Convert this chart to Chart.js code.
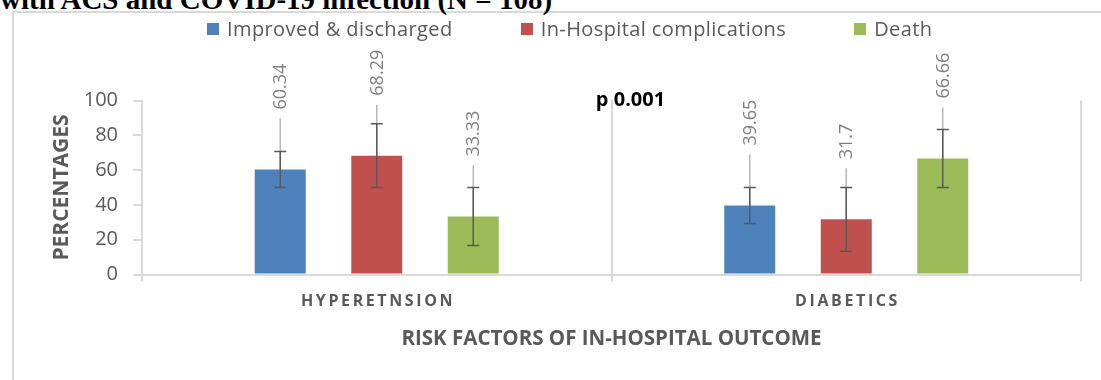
<!DOCTYPE html>
<html lang="en">
<head>
    <meta charset="UTF-8">
    <title>Risk factors of in-hospital outcome</title>
    <script src="https://cdn.jsdelivr.net/npm/chart.js"></script>
    <style>
        body {
            margin: 0;
            background: #ffffff;
            width: 1101px;
            height: 380px;
            overflow: hidden;
            position: relative;
            font-family: "Open Sans", sans-serif;
        }

        #frame {
            position: absolute;
            left: 12px;
            top: 11px;
            width: 1200px;
            height: 500px;
            border: 2px solid #d9d9d9;
        }

        #caption {
            position: absolute;
            left: 0;
            top: -15px;
            font: bold 29px/29px "Liberation Serif", "Times New Roman", serif;
            color: #000;
            white-space: nowrap;
        }

        #legend {
            position: absolute;
            left: 207px;
            top: 17px;
            display: flex;
            font-size: 20px;
            line-height: 24px;
            color: #595959;
            letter-spacing: 0.4px;
        }

        #legend .item {
            display: flex;
            align-items: center;
            margin-right: 68px;
        }

        #legend .box {
            width: 12px;
            height: 12px;
            margin-right: 8px;
        }

        canvas {
            position: absolute;
            left: 0;
            top: 0;
        }
    </style>
</head>
<body>
    <div id="frame"></div>
    <div id="caption">with ACS and COVID-19 infection (N = 108)</div>
    <canvas id="outcome-chart" width="1101" height="380"></canvas>
    <div id="legend"></div>
    <script>
        // Risk factors (x categories)
        const categories = ["HYPERETNSION", "DIABETICS"];

        // Percentages per outcome
        const improved = [60.34, 39.65];
        const complications = [68.29, 31.7];
        const death = [33.33, 66.66];

        // Error bar size per bar (+/-)
        const improvedErr = [10.3, 10.3];
        const complicationsErr = [18.3, 18.3];
        const deathErr = [16.7, 16.7];

        const yTicks = [0, 20, 40, 60, 80, 100];
        const pValue = "p 0.001";

        // error bars, leader lines and rotated value labels
        const barExtras = {
            id: "barExtras",
            afterDatasetsDraw(chart) {
                const ctx = chart.ctx;
                const y = chart.scales.y;
                ctx.save();
                chart.data.datasets.forEach((ds, i) => {
                    const meta = chart.getDatasetMeta(i);
                    meta.data.forEach((bar, j) => {
                        const v = ds.data[j];
                        const err = ds.errors[j];
                        const leaderTop = bar.y - 51;

                        // leader line from label to bar
                        ctx.strokeStyle = "#b8b8b8";
                        ctx.lineWidth = 1.5;
                        ctx.beginPath();
                        ctx.moveTo(bar.x, leaderTop);
                        ctx.lineTo(bar.x, bar.y);
                        ctx.stroke();

                        // error bar
                        const hi = y.getPixelForValue(v + err);
                        const lo = y.getPixelForValue(v - err);
                        ctx.strokeStyle = "#595959";
                        ctx.lineWidth = 1.5;
                        ctx.beginPath();
                        ctx.moveTo(bar.x, hi);
                        ctx.lineTo(bar.x, lo);
                        ctx.moveTo(bar.x - 6, hi);
                        ctx.lineTo(bar.x + 6, hi);
                        ctx.moveTo(bar.x - 6, lo);
                        ctx.lineTo(bar.x + 6, lo);
                        ctx.stroke();

                        // value label
                        ctx.save();
                        ctx.translate(bar.x + 1, leaderTop - 9);
                        ctx.rotate(-Math.PI / 2);
                        ctx.font = '18px "Open Sans"';
                        ctx.fillStyle = "#7f7f7f";
                        ctx.textAlign = "left";
                        ctx.textBaseline = "middle";
                        ctx.fillText(String(v), 0, 0);
                        ctx.restore();
                    });
                });

                // p value note, just right of the category divider
                const x = chart.scales.x;
                const mid = (x.getPixelForTick(0) + x.getPixelForTick(1)) / 2;
                ctx.font = 'bold 20px "Open Sans"';
                ctx.fillStyle = "#000";
                ctx.textAlign = "center";
                ctx.textBaseline = "alphabetic";
                ctx.fillText(pValue, mid + 19, chart.chartArea.top + 5);
                ctx.restore();
            },
            afterDraw(chart) {
                // spaced category labels
                const ctx = chart.ctx;
                const x = chart.scales.x;
                const spacing = 2.6;
                ctx.save();
                ctx.font = 'bold 16px "Open Sans"';
                ctx.letterSpacing = spacing + "px";
                ctx.fillStyle = "#595959";
                ctx.textAlign = "center";
                ctx.textBaseline = "middle";
                categories.forEach((c, i) => {
                    ctx.fillText(c, x.getPixelForTick(i) + spacing / 2, 301);
                });
                ctx.restore();
            }
        };

        const chart = new Chart(document.getElementById("outcome-chart"), {
            type: "bar",
            data: {
                labels: categories,
                datasets: [
                    { label: "Improved & discharged", data: improved, errors: improvedErr, backgroundColor: "#4f81bd" },
                    { label: "In-Hospital complications", data: complications, errors: complicationsErr, backgroundColor: "#c0504d" },
                    { label: "Death", data: death, errors: deathErr, backgroundColor: "#9bbb59" }
                ]
            },
            options: {
                responsive: false,
                animation: false,
                devicePixelRatio: 1,
                categoryPercentage: 0.6166,
                barPercentage: 0.5285,
                layout: {
                    padding: { top: 100.5, right: 20, bottom: 0, left: 0 }
                },
                plugins: {
                    legend: { display: false },
                    tooltip: { enabled: false }
                },
                scales: {
                    x: {
                        grid: {
                            offset: true,
                            color: "#d9d9d9",
                            lineWidth: 2,
                            tickLength: 7
                        },
                        border: { color: "#d9d9d9", width: 2 },
                        ticks: { display: false },
                        title: {
                            display: true,
                            text: "RISK FACTORS OF IN-HOSPITAL OUTCOME",
                            color: "#595959",
                            font: { family: "Open Sans", size: 20.5, weight: "bold" },
                            padding: { top: 0, bottom: 29 }
                        },
                        afterFit(scale) { scale.height = 105.5; }
                    },
                    y: {
                        min: 0,
                        max: 100,
                        afterBuildTicks(scale) { scale.ticks = yTicks.map(v => ({ value: v })); },
                        grid: {
                            drawOnChartArea: false,
                            color: "#d9d9d9",
                            lineWidth: 2,
                            tickLength: 9
                        },
                        border: { color: "#d9d9d9", width: 2 },
                        ticks: {
                            color: "#595959",
                            font: { family: "Open Sans", size: 20 },
                            padding: 15
                        },
                        title: {
                            display: true,
                            text: "PERCENTAGES",
                            color: "#595959",
                            font: { family: "Open Sans", size: 21, weight: "bold" },
                            padding: { top: 49, bottom: 0 }
                        },
                        afterFit(scale) { scale.width = 142; }
                    }
                }
            },
            plugins: [barExtras]
        });

        // html legend from the datasets
        const legend = document.getElementById("legend");
        chart.data.datasets.forEach(ds => {
            const item = document.createElement("div");
            item.className = "item";
            const box = document.createElement("span");
            box.className = "box";
            box.style.background = ds.backgroundColor;
            item.appendChild(box);
            item.appendChild(document.createTextNode(ds.label));
            legend.appendChild(item);
        });
    </script>
</body>
</html>
